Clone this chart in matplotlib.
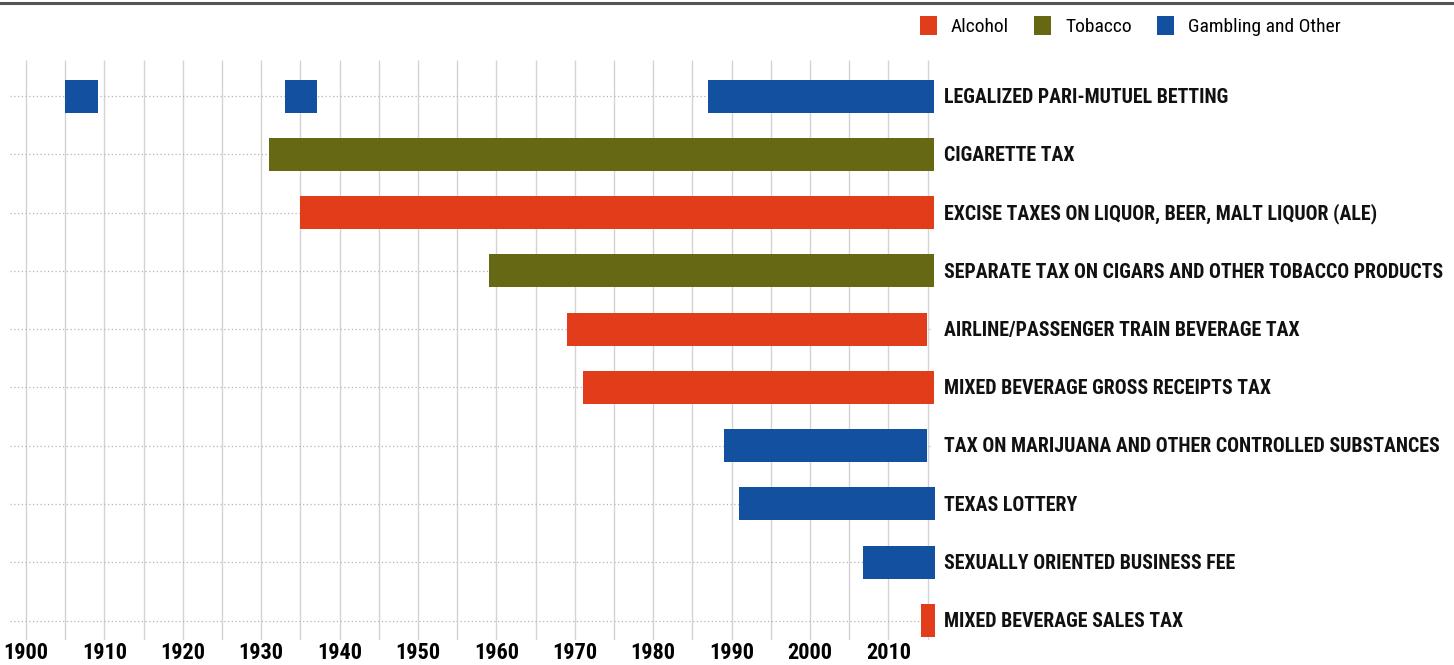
import matplotlib
matplotlib.use("Agg")
import matplotlib.pyplot as plt
from matplotlib.patches import Patch
from matplotlib import font_manager

# rows, top to bottom
labels = [
    "LEGALIZED PARI-MUTUEL BETTING",
    "CIGARETTE TAX",
    "EXCISE TAXES ON LIQUOR, BEER, MALT LIQUOR (ALE)",
    "SEPARATE TAX ON CIGARS AND OTHER TOBACCO PRODUCTS",
    "AIRLINE/PASSENGER TRAIN BEVERAGE TAX",
    "MIXED BEVERAGE GROSS RECEIPTS TAX",
    "TAX ON MARIJUANA AND OTHER CONTROLLED SUBSTANCES",
    "TEXAS LOTTERY",
    "SEXUALLY ORIENTED BUSINESS FEE",
    "MIXED BEVERAGE SALES TAX",
]
categories = [
    "Gambling and Other", "Tobacco", "Alcohol", "Tobacco", "Alcohol",
    "Alcohol", "Gambling and Other", "Gambling and Other",
    "Gambling and Other", "Alcohol",
]
# (start year, end year) for each period a tax was in force
periods = [
    [(1905, 1909.2), (1933, 1937.1), (1987, 2015.8)],
    [(1931, 2015.8)],
    [(1935, 2015.8)],
    [(1959, 2015.8)],
    [(1969, 2014.9)],
    [(1971, 2015.8)],
    [(1989, 2014.9)],
    [(1991, 2015.9)],
    [(2006.7, 2015.9)],
    [(2014.1, 2015.9)],
]
legend_order = ["Alcohol", "Tobacco", "Gambling and Other"]
colors = {"Alcohol": "#e23d1b", "Tobacco": "#666813", "Gambling and Other": "#1450a0"}
year_ticks = list(range(1900, 2011, 10))
grid_years = list(range(1900, 2016, 5))

# pick a narrow font if one is around
names = {f.name for f in font_manager.fontManager.ttflist}
narrow = [n for n in ["Roboto Condensed", "Liberation Sans Narrow",
                      "DejaVu Sans Condensed", "Open Sans Condensed"] if n in names]
family = narrow[:1] + ["DejaVu Sans"]
plt.rcParams["font.family"] = family

W, H = 1454, 665
fig = plt.figure(figsize=(W / 100, H / 100), dpi=100)
# axes covers the grid area, full width
ax = fig.add_axes([0, 1 - 640 / H, 1, (640 - 60) / H])
x0 = 1900 - 26 / 7.84
x1 = 1900 + (W - 26) / 7.84
ax.set_xlim(x0, x1)
row_h = 58.28
ax.set_ylim((640 - 96) / row_h, (60 - 96) / row_h)
for s in ax.spines.values():
    s.set_visible(False)
ax.set_yticks([])
ax.set_xticks(year_ticks)
ax.set_xticklabels([str(y) for y in year_ticks], fontsize=16, fontweight="bold")
ax.tick_params(axis="x", length=0, pad=1.5)

ax.vlines(grid_years, (640 - 96) / row_h, (60 - 96) / row_h,
          colors="#d4d4d4", linewidth=1, zorder=0)
ax.hlines(range(len(labels)), 1898, 2015.5, colors="#b5b5b5",
          linestyles=(0, (1, 2)), linewidth=0.9, zorder=0)

bar_h = 33 / row_h
for i, (segs, cat) in enumerate(zip(periods, categories)):
    ax.broken_barh([(a, b - a) for a, b in segs], (i - bar_h / 2, bar_h),
                   facecolors=colors[cat], zorder=2)
    ax.text(2017.1, i + 0.02, labels[i], ha="left", va="center", fontsize=14.3,
            fontweight="bold", color="#111111")

# top rule
fig.add_artist(plt.Line2D([0, 1], [1 - 3 / H, 1 - 3 / H], color="#555555",
                          linewidth=2.2))

handles = [Patch(facecolor=colors[c], label=c) for c in legend_order]
fig.legend(handles=handles, loc="upper right",
           bbox_to_anchor=(1350 / W, 1 - 6 / H), ncol=3, frameon=False,
           fontsize=14, handlelength=0.88, handleheight=1.13,
           handletextpad=0.7, columnspacing=1.3, borderpad=0)

fig.savefig("out.png", dpi=100)
